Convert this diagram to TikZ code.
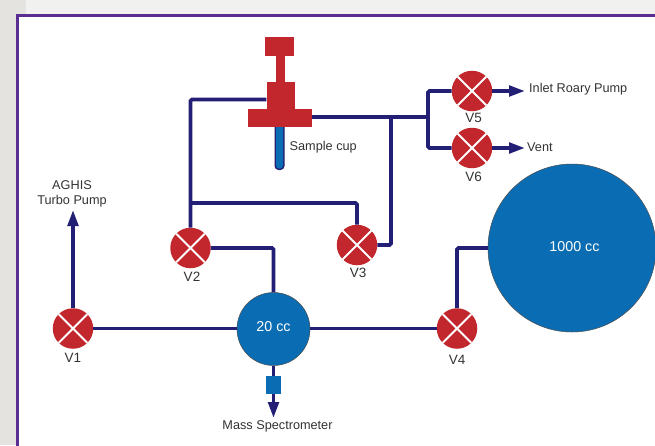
\documentclass[tikz,border=0pt]{standalone}
\usepackage{fontspec}
\setmainfont{Liberation Sans}
\usetikzlibrary{arrows.meta,positioning}
\definecolor{pipeblue}{HTML}{231F74}
\definecolor{valvered}{HTML}{C1272D}
\definecolor{vesselblue}{HTML}{0A6DB3}
\definecolor{framepurple}{HTML}{5A2D91}
\definecolor{labelgray}{HTML}{333333}
\definecolor{backdrop}{HTML}{E4E3E0}
\definecolor{topband}{HTML}{F1F1EF}

\begin{document}
\begin{tikzpicture}[x=1pt,y=-1pt,
  valve/.style={circle, fill=valvered, draw=none, inner sep=0pt, minimum size=40.5pt,
                path picture={
                  \draw[white, line width=1.8pt]
                    (path picture bounding box.north west) -- (path picture bounding box.south east)
                    (path picture bounding box.north east) -- (path picture bounding box.south west);}},
  vessel/.style={circle, fill=vesselblue, draw=black!70, line width=0.5pt, inner sep=0pt},
  vesseltext/.style={inner sep=0pt, text=white, font=\fontsize{14.3}{16}\selectfont},
  redpart/.style={rectangle, fill=valvered, inner sep=0pt},
  pipe/.style={draw=pipeblue, line width=3.6pt, rounded corners=1.5pt},
  arr/.style={pipe, -{Triangle[length=16pt,width=10.5pt]}},
  txt/.style={text=labelgray, inner sep=0pt, align=center, font=\fontsize{12.7}{15}\selectfont},
  vlabel/.style={txt, font=\fontsize{13.5}{15}\selectfont}
]
  \useasboundingbox (0,0) rectangle (655,445);
  \fill[backdrop] (0,0) rectangle (655,445);
  \fill[topband] (26,0) rectangle (655,14);
  \fill[white] (17,14) rectangle (660,450);
  \draw[framepurple, line width=3pt] (17.5,450) -- (17.5,15) -- (660,15);

  % valves and vessels
  \node[valve] (v1) at (73,328.5) {};
  \node[valve] (v2) at (190.5,248) {};
  \node[valve] (v3) at (357,245) {};
  \node[valve] (v4) at (457,328.5) {};
  \node[valve] (v5) at (472,91) {};
  \node[valve] (v6) at (472,148) {};
  \node[vessel, minimum size=73pt] (small) at (273.5,329) {};
  \node[vessel, minimum size=168pt] (large) at (572,248) {};
  \node[vesseltext] (smalllab) at (273.5,327) {20 cc};
  \node[vesseltext] (largelab) at (574.5,247) {1000 cc};

  \node[vlabel, below=4.5pt of v1] (v1lab) {V1};
  \node[vlabel, below=3pt of v2, xshift=1.5pt] (v2lab) {V2};
  \node[vlabel, below=2pt of v3, xshift=1pt] (v3lab) {V3};
  \node[vlabel, below=6.5pt of v4] (v4lab) {V4};
  \node[vlabel, below=2pt of v5, xshift=1.5pt] (v5lab) {V5};
  \node[vlabel, below=3pt of v6, xshift=1.5pt] (v6lab) {V6};

  % sample valve
  \node[redpart, minimum width=28.5pt, minimum height=19pt] (cap) at (279.5,46.5) {};
  \node[redpart, minimum width=9.5pt, minimum height=27pt] (stem) at (280.5,69) {};
  \node[redpart, minimum width=28pt, minimum height=27pt] (body) at (280.5,95.5) {};
  \node[redpart, minimum width=63.5pt, minimum height=18pt] (flange) at (280,118) {};
  \fill[pipeblue, rounded corners=4pt] (274.5,120) rectangle (284.5,170);
  \fill[vesselblue, rounded corners=3pt] (276,120) rectangle (283,168.5);
  \fill[valvered] (248.25,109) rectangle (311.75,127);

  % outlets and labels
  \node[rectangle, fill=vesselblue, inner sep=0pt, minimum width=14.5pt, minimum height=18pt] (filter) at (273.5,385) {};
  \node[txt, anchor=west] (cuplab) at (289.5,147.5) {Sample cup};
  \node[txt] (massspec) at (277.5,426.5) {Mass Spectrometer};
  \node[txt] (turbo) at (72,193.5) {AGHIS\\Turbo Pump};
  \node[txt, anchor=west] (inlet) at (529,89.5) {Inlet Roary Pump};
  \node[txt, anchor=west] (vent) at (527,147.5) {Vent};

  % junctions
  \coordinate (topbend) at (190.5,99.5);
  \coordinate (branch) at (190.5,203);
  \coordinate (flangeright) at (391,117);
  \coordinate (split) at (428,117);
  \coordinate (turboend) at (73,210);
  \coordinate (specend) at (273.5,418);
  \coordinate (inletend) at (525,91);
  \coordinate (ventend) at (525,148);

  % connectors
  \draw[arr] (v1) -- (turboend);
  \draw[pipe] (v1) -- (v1 -| small.west);
  \draw[pipe] (small.east |- v4) -- (v4);
  \draw[pipe] (v2) -| (small);
  \draw[pipe] (v2) -- (topbend) -- (topbend -| body.west);
  \draw[pipe] (branch) -| (v3);
  \draw[pipe] (flange.east |- split) -- (split);
  \draw[pipe] (flangeright) |- (v3);
  \draw[pipe] (v5) -| (split) |- (v6);
  \draw[pipe] (v4) |- (large.west);
  \draw[pipe] (small) -- (filter);
  \draw[arr] (filter) -- (specend);
  \draw[arr] (v5) -- (inletend);
  \draw[arr] (v6) -- (ventend);
\end{tikzpicture}
\end{document}
